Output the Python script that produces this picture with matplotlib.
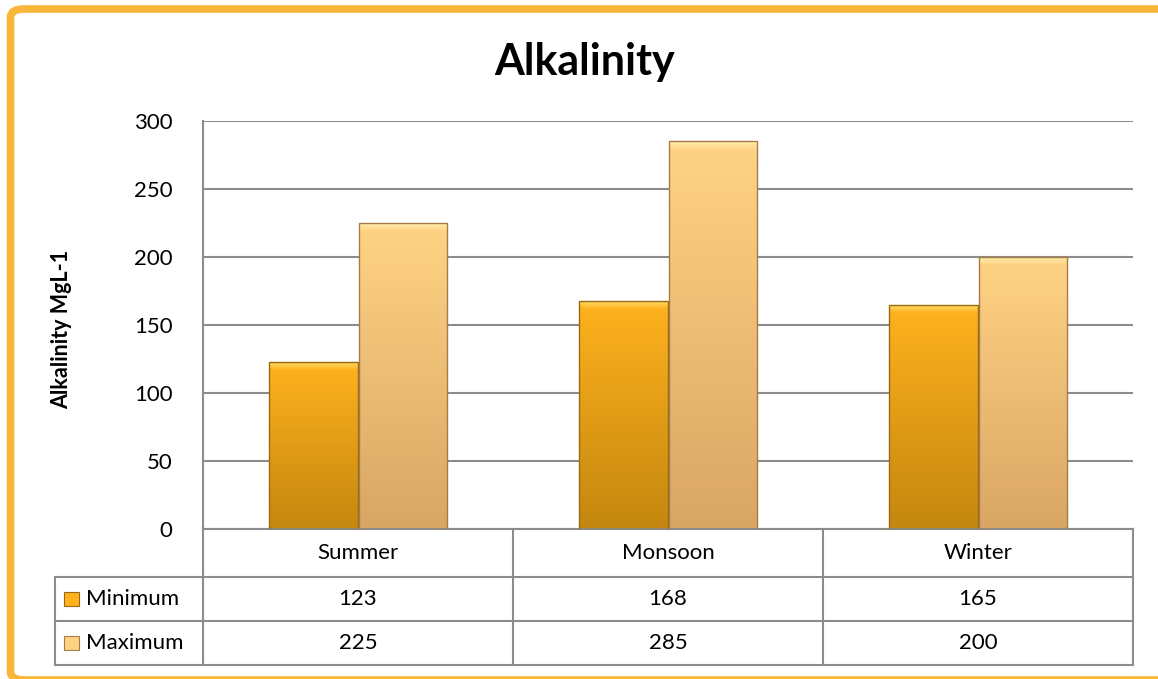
import matplotlib.pyplot as plt
import numpy as np
from matplotlib.patches import FancyBboxPatch, Rectangle
from matplotlib.transforms import blended_transform_factory

plt.rcParams["font.family"] = ["Lato", "DejaVu Sans"]

seasons = ["Summer", "Monsoon", "Winter"]
series_names = ["Minimum", "Maximum"]
minimum = [123, 168, 165]
maximum = [225, 285, 200]
y_ticks = [0, 50, 100, 150, 200, 250, 300]

# gradient colours (top, bottom) and top highlight per series
TOP_COLORS = ["#ffb21e", "#ffd384"]
BOTTOM_COLORS = ["#c4870f", "#d9a664"]
HIGHLIGHT = ["#ffe070", "#fff0b0"]
EDGE = ["#9a6a10", "#a57c45"]
GRID = "#8c8c8c"
BORDER = "#f9b73a"

W, H = 1158, 679
fig = plt.figure(figsize=(W / 100, H / 100), dpi=100)


def px(x, y):
    return x / W, 1 - y / H


ax_left, ax_right, ax_top, ax_bottom = 203, 1133, 121, 529
ax = fig.add_axes([ax_left / W, 1 - ax_bottom / H, (ax_right - ax_left) / W, (ax_bottom - ax_top) / H])
ax.set_xlim(-0.5, len(seasons) - 0.5)
ax.set_ylim(0, 300)
ax.set_yticks(y_ticks)
ax.set_yticklabels([str(t) for t in y_ticks], fontsize=16)
ax.set_xticks([])
ax.tick_params(axis="y", length=0, pad=22)
ax.yaxis.grid(True, color=GRID, linewidth=1.5)
ax.set_axisbelow(True)
for side in ["top", "right", "bottom"]:
    ax.spines[side].set_visible(False)
ax.spines["left"].set_color(GRID)
ax.spines["left"].set_linewidth(1.5)


def gradient(c_top, c_bottom, n=256):
    t = np.linspace(0, 1, n)[:, None]
    a = np.array(plt.matplotlib.colors.to_rgb(c_top))
    b = np.array(plt.matplotlib.colors.to_rgb(c_bottom))
    return (a * (1 - t) + b * t)[:, None, :].repeat(2, axis=1)


width = 0.285
offsets = [-0.143, 0.146]
x = np.arange(len(seasons))
for i, values in enumerate([minimum, maximum]):
    bars = ax.bar(x + offsets[i], values, width, color="none", edgecolor=EDGE[i], linewidth=1.0, zorder=3)
    for bar in bars:
        bx, bw, bh = bar.get_x(), bar.get_width(), bar.get_height()
        img = ax.imshow(gradient(TOP_COLORS[i], BOTTOM_COLORS[i]), extent=[bx, bx + bw, 0, bh],
                        aspect="auto", zorder=2, interpolation="bilinear")
        img.set_clip_path(bar)
        # bevel highlight along the top
        hl = ax.imshow(gradient(HIGHLIGHT[i], TOP_COLORS[i], 16), extent=[bx, bx + bw, bh - 6, bh],
                       aspect="auto", zorder=2.5, interpolation="bilinear")
        hl.set_clip_path(bar)
ax.set_xlim(-0.5, len(seasons) - 0.5)
ax.set_ylim(0, 300)

# data table below the axes
trans = blended_transform_factory(ax.transData, ax.transAxes)
row_h = [48, 44, 44]
ax_h = ax_bottom - ax_top
y_edges = [0]
for h in row_h:
    y_edges.append(y_edges[-1] - h / ax_h)
x_left = -0.5 - 148 / 310
line_kw = dict(color=GRID, linewidth=1.5, clip_on=False, transform=trans)

ax.plot([-0.5, len(seasons) - 0.5], [y_edges[0]] * 2, **line_kw)
for yy in y_edges[1:]:
    ax.plot([x_left, len(seasons) - 0.5], [yy] * 2, **line_kw)
for k in range(len(seasons) + 1):
    ax.plot([k - 0.5] * 2, [0, y_edges[-1]], **line_kw)
ax.plot([x_left] * 2, [y_edges[1], y_edges[-1]], **line_kw)

for j, name in enumerate(seasons):
    ax.text(j, (y_edges[0] + y_edges[1]) / 2, name, transform=trans, ha="center", va="center", fontsize=16)
for i, (name, values) in enumerate(zip(series_names, [minimum, maximum])):
    yc = (y_edges[i + 1] + y_edges[i + 2]) / 2
    for j, v in enumerate(values):
        ax.text(j, yc, str(v), transform=trans, ha="center", va="center", fontsize=16)
    ax.text(x_left + 0.1, yc, name, transform=trans, ha="left", va="center", fontsize=16)
    ax.add_patch(Rectangle((x_left + 0.028, yc - 7 / ax_h), 15 / 310, 14 / ax_h, transform=trans,
                           facecolor=TOP_COLORS[i], edgecolor=EDGE[i], linewidth=0.8, clip_on=False))

fig.text(*px(585, 62), "Alkalinity", ha="center", va="center", fontsize=31, fontweight="bold")
fig.text(*px(62, 329), "Alkalinity MgL-1", ha="center", va="center", rotation=90, fontsize=15.5,
         fontweight="bold")

fig.patches.append(FancyBboxPatch(px(10.5, 680), 1200 / W, 671 / H, boxstyle="round,pad=0,rounding_size=0.012",
                                  transform=fig.transFigure, facecolor="none", edgecolor=BORDER,
                                  linewidth=5.5, clip_on=False))

fig.savefig("out.png", dpi=100)
